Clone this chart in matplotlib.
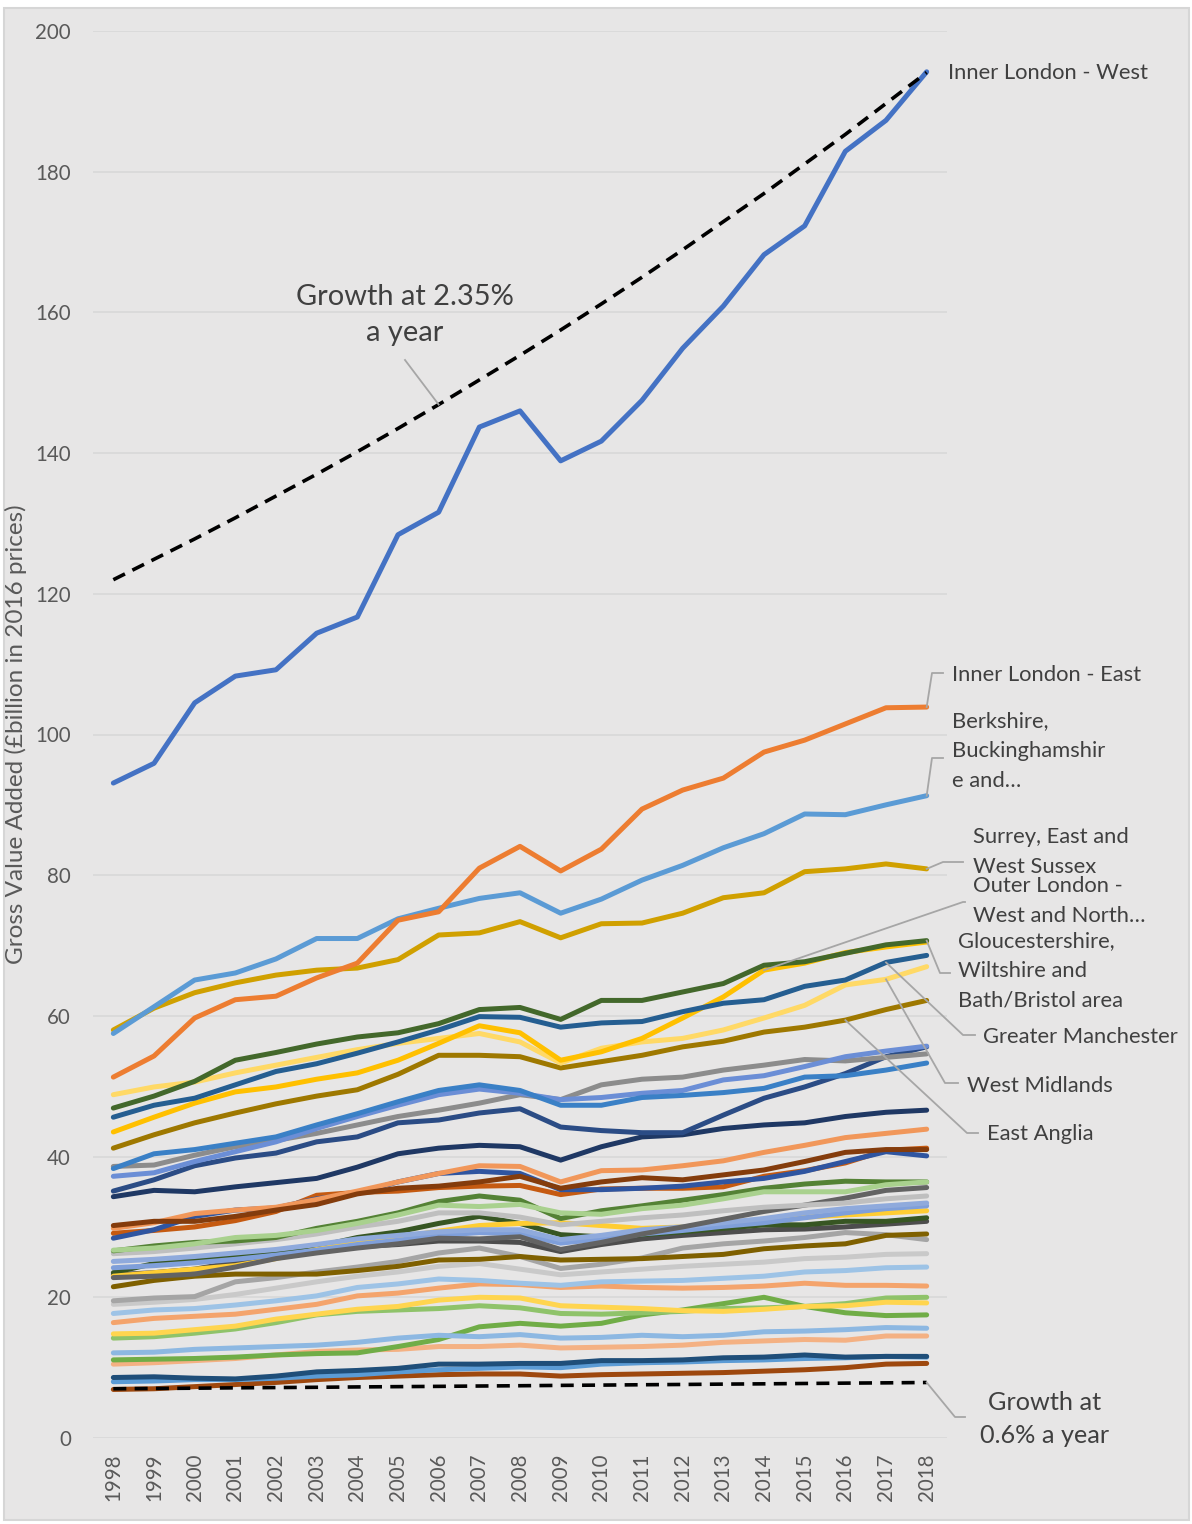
import matplotlib
matplotlib.use('Agg')
import matplotlib.pyplot as plt
from matplotlib.patches import Rectangle

W, H = 1192, 1524
FONT = ['Lato', 'DejaVu Sans']
plt.rcParams['font.family'] = FONT

years = list(range(1998, 2019))

# named regions (labelled)
inner_london_west = [93.1, 95.9, 104.5, 108.3, 109.2, 114.4, 116.7, 128.4, 131.6, 143.7, 146.0,
                     138.9, 141.7, 147.5, 154.9, 160.9, 168.2, 172.3, 182.9, 187.3, 194.2]
inner_london_east = [51.3, 54.3, 59.7, 62.3, 62.8, 65.4, 67.5, 73.6, 74.8, 81.0, 84.1,
                     80.6, 83.7, 89.4, 92.1, 93.8, 97.5, 99.2, 101.5, 103.8, 103.9]
berkshire = [57.5, 61.3, 65.1, 66.1, 68.1, 71.0, 71.0, 73.8, 75.3, 76.7, 77.5,
             74.6, 76.6, 79.3, 81.4, 83.9, 85.9, 88.7, 88.6, 90.0, 91.3]
surrey = [58.0, 61.1, 63.3, 64.7, 65.8, 66.5, 66.8, 68.0, 71.5, 71.8, 73.4,
          71.1, 73.1, 73.2, 74.6, 76.8, 77.5, 80.5, 80.9, 81.6, 80.9]
gloucestershire = [46.9, 48.6, 50.7, 53.7, 54.8, 56.0, 57.0, 57.6, 58.9, 60.9, 61.2,
                   59.5, 62.2, 62.2, 63.4, 64.6, 67.2, 67.7, 68.9, 70.1, 70.7]
greater_manchester = [45.6, 47.3, 48.3, 50.2, 52.1, 53.2, 54.7, 56.3, 58.0, 59.9, 59.8,
                      58.4, 59.0, 59.2, 60.6, 61.8, 62.3, 64.2, 65.1, 67.6, 68.6]
outer_london_wn = [43.5, 45.6, 47.6, 49.2, 49.9, 51.0, 51.9, 53.7, 56.1, 58.6, 57.6,
                   53.7, 54.9, 56.8, 59.7, 62.7, 66.5, 67.5, 69.0, 69.8, 70.5]
west_midlands = [48.8, 49.9, 50.6, 51.9, 53.0, 54.1, 55.2, 56.1, 56.8, 57.5, 56.3,
                 53.3, 55.4, 56.3, 56.8, 58.0, 59.7, 61.5, 64.4, 65.2, 67.0]
east_anglia = [41.2, 43.1, 44.8, 46.2, 47.5, 48.6, 49.5, 51.7, 54.4, 54.4, 54.2,
               52.6, 53.5, 54.4, 55.6, 56.4, 57.7, 58.4, 59.4, 60.9, 62.2]

# other regions (unlabelled)
other_a1 = [38.6, 38.8, 40.2, 41.4, 42.3, 43.3, 44.5, 45.7, 46.6, 47.6, 48.8,
            48.1, 50.2, 51.0, 51.3, 52.3, 53.0, 53.8, 53.6, 54.1, 54.6]
other_a2 = [38.3, 40.4, 41.0, 41.9, 42.8, 44.5, 46.1, 47.8, 49.4, 50.2, 49.4,
            47.3, 47.3, 48.4, 48.7, 49.1, 49.7, 51.3, 51.5, 52.3, 53.3]
other_a3 = [37.2, 37.7, 39.3, 40.7, 42.1, 44.0, 45.7, 47.3, 48.8, 49.6, 49.0,
            48.1, 48.4, 49.0, 49.4, 50.9, 51.5, 52.8, 54.2, 55.0, 55.7]
other_a4 = [35.1, 36.7, 38.7, 39.8, 40.5, 42.1, 42.8, 44.8, 45.2, 46.2, 46.8,
            44.2, 43.7, 43.4, 43.4, 45.9, 48.3, 49.9, 51.8, 54.2, 55.6]
other_a5 = [34.3, 35.2, 35.0, 35.7, 36.3, 36.9, 38.5, 40.4, 41.2, 41.6, 41.4,
            39.5, 41.4, 42.8, 43.1, 44.0, 44.5, 44.8, 45.7, 46.3, 46.6]
other_b1 = [29.8, 30.6, 31.9, 32.4, 32.8, 33.9, 35.1, 36.4, 37.6, 38.7, 38.6,
            36.4, 38.0, 38.1, 38.7, 39.4, 40.6, 41.6, 42.7, 43.3, 43.9]
other_b2 = [28.4, 29.6, 31.5, 32.4, 32.7, 34.0, 34.8, 36.4, 37.6, 37.9, 37.6,
            35.3, 35.3, 35.5, 35.8, 36.4, 36.9, 37.9, 39.3, 40.7, 40.1]
other_b3 = [30.2, 30.8, 30.8, 31.5, 32.4, 33.2, 34.7, 35.5, 35.8, 36.4, 37.2,
            35.5, 36.4, 37.0, 36.7, 37.4, 38.1, 39.3, 40.6, 41.0, 41.0]
other_b4 = [29.1, 29.5, 30.0, 30.9, 32.2, 34.5, 34.9, 35.1, 35.6, 35.8, 35.9,
            34.6, 35.4, 35.5, 35.5, 35.7, 37.2, 38.0, 39.1, 40.9, 41.2]
other_c1 = [26.7, 27.0, 27.6, 28.5, 28.8, 29.5, 30.5, 31.7, 33.1, 32.9, 33.2,
            32.0, 31.8, 32.6, 33.1, 34.0, 35.0, 35.0, 35.0, 36.0, 36.4]
other_c2 = [26.6, 27.3, 27.8, 28.0, 28.5, 29.8, 30.8, 32.0, 33.6, 34.4, 33.8,
            31.2, 32.3, 33.0, 33.8, 34.6, 35.5, 36.1, 36.5, 36.4, 36.4]
other_c3 = [26.2, 26.5, 27.0, 27.6, 28.2, 29.0, 30.0, 30.8, 32.0, 32.0, 31.4,
            30.3, 30.8, 31.3, 31.7, 32.3, 32.8, 33.1, 33.4, 34.0, 34.4]
other_c4 = [25.1, 25.4, 25.8, 26.3, 26.8, 27.5, 28.3, 28.8, 29.3, 29.6, 29.6,
            28.2, 28.8, 29.6, 30.0, 30.6, 31.2, 32.0, 32.6, 33.0, 33.4]
other_c5 = [24.2, 24.5, 24.9, 25.4, 26.0, 26.7, 27.5, 28.1, 28.8, 29.2, 29.0,
            27.7, 28.3, 29.0, 29.5, 30.1, 30.6, 31.3, 32.0, 32.6, 33.0]
other_c6 = [23.0, 23.5, 24.0, 24.5, 25.5, 26.8, 27.8, 28.5, 29.4, 30.2, 30.5,
            30.6, 30.2, 29.8, 30.0, 30.4, 30.8, 31.4, 31.7, 32.0, 32.3]
other_c7 = [23.5, 24.8, 25.3, 26.0, 26.5, 27.2, 28.5, 29.3, 30.5, 31.5, 30.5,
            28.9, 28.6, 28.9, 29.3, 29.8, 30.3, 30.3, 30.8, 30.8, 31.3]
other_c8 = [22.8, 23.0, 23.3, 24.3, 25.5, 26.3, 27.0, 27.6, 28.4, 28.3, 28.6,
            26.8, 27.8, 29.0, 30.0, 31.1, 32.2, 33.1, 34.1, 35.2, 35.6]
other_c9 = [23.2, 23.5, 24.0, 25.0, 25.8, 26.5, 27.2, 27.5, 28.0, 28.0, 27.8,
            26.5, 27.5, 28.3, 28.8, 29.2, 29.6, 29.7, 30.0, 30.4, 30.8]
other_c10 = [21.5, 22.4, 23.0, 23.3, 23.3, 23.3, 23.8, 24.4, 25.3, 25.4, 25.8,
             25.3, 25.4, 25.5, 25.8, 26.1, 26.9, 27.3, 27.6, 28.8, 29.0]
other_d1 = [19.5, 19.9, 20.1, 22.2, 22.8, 23.6, 24.3, 25.1, 26.3, 27.0, 25.8,
            24.1, 24.7, 25.6, 27.0, 27.6, 28.0, 28.5, 29.2, 28.9, 28.2]
other_d2 = [19.0, 19.3, 19.7, 20.4, 21.3, 22.2, 23.0, 23.6, 24.4, 24.8, 24.0,
            23.2, 23.6, 24.0, 24.4, 24.7, 25.0, 25.5, 25.7, 26.1, 26.2]
other_d3 = [17.7, 18.2, 18.4, 18.9, 19.5, 20.2, 21.4, 21.9, 22.6, 22.4, 22.0,
            21.7, 22.2, 22.3, 22.4, 22.7, 23.0, 23.6, 23.8, 24.2, 24.3]
other_d4 = [16.4, 17.0, 17.3, 17.6, 18.3, 19.0, 20.2, 20.6, 21.3, 21.9, 21.8,
            21.4, 21.6, 21.4, 21.3, 21.4, 21.6, 22.0, 21.7, 21.7, 21.6]
other_d5 = [14.8, 14.9, 15.4, 15.9, 16.9, 17.6, 18.3, 18.7, 19.6, 20.0, 19.9,
            18.8, 18.6, 18.4, 18.1, 18.0, 18.3, 18.7, 18.8, 19.3, 19.2]
other_d6 = [14.2, 14.4, 14.9, 15.5, 16.4, 17.5, 18.0, 18.2, 18.4, 18.8, 18.5,
            17.7, 17.6, 17.8, 18.0, 18.4, 18.5, 18.7, 19.1, 19.9, 20.0]
other_e1 = [12.1, 12.2, 12.6, 12.8, 13.0, 13.2, 13.6, 14.2, 14.6, 14.4, 14.7,
            14.2, 14.3, 14.6, 14.4, 14.6, 15.1, 15.2, 15.4, 15.7, 15.6]
other_e2 = [11.1, 11.2, 11.3, 11.5, 11.8, 12.0, 12.1, 13.0, 14.0, 15.8, 16.3,
            15.9, 16.3, 17.5, 18.2, 19.1, 20.0, 18.7, 17.8, 17.4, 17.5]
other_e3 = [10.5, 10.7, 11.0, 11.3, 11.8, 12.3, 12.5, 12.6, 13.0, 13.0, 13.2,
            12.8, 12.9, 13.0, 13.2, 13.6, 13.8, 14.0, 13.9, 14.5, 14.5]
other_e4 = [8.0, 8.1, 8.3, 8.3, 8.5, 8.8, 9.0, 9.4, 9.7, 9.9, 10.1,
            10.0, 10.5, 10.7, 10.8, 11.0, 11.1, 11.3, 11.4, 11.6, 11.5]
other_e5 = [8.6, 8.7, 8.5, 8.4, 8.8, 9.4, 9.6, 9.9, 10.5, 10.5, 10.6,
            10.6, 11.0, 11.0, 11.1, 11.4, 11.5, 11.8, 11.5, 11.6, 11.6]
other_e6 = [6.9, 7.0, 7.3, 7.6, 7.9, 8.3, 8.6, 8.8, 9.0, 9.1, 9.1,
            8.8, 9.0, 9.1, 9.2, 9.3, 9.5, 9.7, 10.0, 10.5, 10.6]

# reference growth paths
growth_235 = [122.0, 124.9, 127.8, 130.8, 133.9, 137.0, 140.2, 143.5, 146.9, 150.4, 153.9,
              157.5, 161.2, 165.0, 168.9, 172.9, 176.9, 181.1, 185.3, 189.7, 194.1]
growth_06 = [7.00, 7.04, 7.08, 7.13, 7.17, 7.21, 7.26, 7.30, 7.34, 7.39, 7.43,
             7.48, 7.52, 7.57, 7.61, 7.66, 7.70, 7.75, 7.80, 7.84, 7.89]

# drawing order: first drawn is at the bottom
series = [
    (other_e6, '#9E480E'), (other_e4, '#5B9BD5'), (other_e5, '#1F4E79'),
    (other_e3, '#F4B183'), (other_e2, '#70AD47'), (other_e1, '#8DB8E2'),
    (other_d6, '#8FC36A'), (other_d5, '#FFD54F'), (other_d4, '#F4A46C'),
    (other_d3, '#9DC3E6'), (other_d2, '#C9C9C9'), (other_d1, '#A5A5A5'),
    (other_c10, '#7F6000'), (other_c9, '#4D4D4D'), (other_c7, '#375623'),
    (other_c6, '#FFCD33'), (other_c5, '#7F9FDA'), (other_c4, '#8FAADC'),
    (other_c8, '#636363'), (other_c3, '#BFBFBF'), (other_c2, '#548235'),
    (other_c1, '#A9D18E'), (other_b4, '#C55A11'), (other_b2, '#2F55A0'),
    (other_b1, '#F1975A'), (other_b3, '#843C0C'), (other_a5, '#1F3864'),
    (other_a4, '#2B4C85'), (other_a1, '#8C8C8C'), (other_a3, '#6B8ED6'),
    (other_a2, '#3A80C6'),
    (east_anglia, '#9E7800'), (west_midlands, '#FFD966'), (outer_london_wn, '#FFC000'),
    (greater_manchester, '#255E91'), (gloucestershire, '#43682B'),
    (surrey, '#D0A000'), (berkshire, '#5B9BD5'), (inner_london_east, '#ED7D31'),
    (inner_london_west, '#4472C4'),
]

fig = plt.figure(figsize=(W / 100, H / 100), dpi=100)
fig.patch.set_facecolor('white')
fig.patches.append(Rectangle((4 / W, 1 - 1520 / H), 1185 / W, 1512 / H,
                             transform=fig.transFigure, facecolor='#E7E6E6',
                             edgecolor='#D6D6D6', linewidth=1.5, zorder=-10))

ax = fig.add_axes([93 / W, 1 - 1438 / H, 854 / W, 1407 / H])
ax.set_zorder(1)
ax.set_facecolor('none')
ax.set_xlim(1997.5, 2018.5)
ax.set_ylim(0, 200)

lw = 3.6
for vals, col in series:
    ax.plot(years, vals, color=col, lw=lw, solid_capstyle='round',
            solid_joinstyle='round', zorder=3)
ax.plot(years, growth_235, color='black', lw=2.6, ls=(0, (3.6, 2.3)), zorder=4)
ax.plot(years, growth_06, color='black', lw=2.6, ls=(0, (3.6, 2.3)), zorder=4)

ax.set_yticks(range(0, 201, 20))
ax.set_xticks(years)
ax.set_xticklabels([str(y) for y in years], rotation=90, va='top')
ax.grid(axis='y', color='#D9D9D9', lw=1.3, zorder=0)
ax.set_axisbelow(True)
ax.tick_params(axis='both', length=0, labelsize=14.8, labelcolor='#595959')
ax.tick_params(axis='y', pad=16)
ax.tick_params(axis='x', pad=11)
for s in ax.spines.values():
    s.set_visible(False)
ax.set_ylabel('Gross Value Added (£billion in 2016 prices)', fontsize=17.5, color='#595959')
ax.yaxis.set_label_coords((27 - 93) / 854, 0.5)


def to_data(px, py):
    return 1997.5 + (px - 93) * 21 / 854, (1438 - py) * 200 / 1407


def leader(start, pts):
    xs = [start[0]] + [to_data(*p)[0] for p in pts]
    ys = [start[1]] + [to_data(*p)[1] for p in pts]
    ax.plot(xs, ys, color='#A6A6A6', lw=1.3, clip_on=False, zorder=5)


def label(px, py, text, size=15.8, ha='left', ls=1.6):
    fig.text(px / W, 1 - py / H, text, fontsize=size, color='#404040', ha=ha,
             va='center', linespacing=ls)


label(948, 73, 'Inner London - West')

leader((2018, inner_london_east[-1]), [(932, 673), (943, 673)])
label(952, 675, 'Inner London - East')

leader((2018, berkshire[-1]), [(932, 758), (943, 758)])
label(952, 751, 'Berkshire,\nBuckinghamshir\ne and…')

leader((2018, surrey[-1]), [(943, 862), (963, 862)])
label(973, 852, 'Surrey, East and\nWest Sussex')

leader((2014, outer_london_wn[16]), [(963, 902), (965, 902)])
label(973, 901, 'Outer London -\nWest and North…')

leader((2018, gloucestershire[-1]), [(940, 973), (950, 973)])
label(958, 971, 'Gloucestershire,\nWiltshire and\nBath/Bristol area')

leader((2017, greater_manchester[19]), [(963, 1035), (975, 1035)])
label(983, 1037, 'Greater Manchester')

leader((2017, west_midlands[19]), [(945, 1083), (958, 1083)])
label(967, 1086, 'West Midlands')

leader((2016, east_anglia[18]), [(967, 1133), (978, 1133)])
label(987, 1134, 'East Anglia')

leader((2006, growth_235[8]), [(405, 360)])
label(405, 315, 'Growth at 2.35%\na year', size=20.9, ha='center', ls=1.5)

leader((2018, growth_06[-1]), [(955, 1417), (965, 1417)])
label(1045, 1419, 'Growth at\n0.6% a year', size=18.2, ha='center', ls=1.5)

fig.savefig('out.png', dpi=100)
